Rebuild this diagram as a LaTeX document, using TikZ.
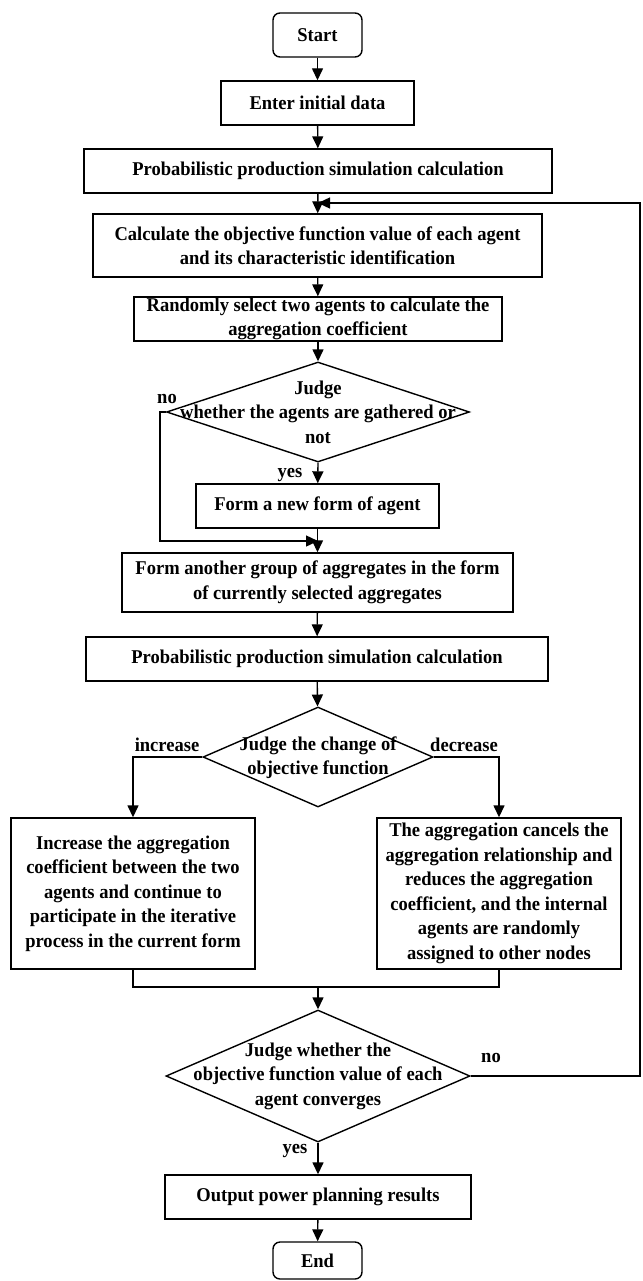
\documentclass[tikz,border=0pt]{standalone}
\usepackage{fontspec}
\setmainfont[FakeStretch=0.95]{Liberation Serif}
\usetikzlibrary{arrows.meta,shapes.geometric}
\newcommand\myfont{\bfseries\fontsize{19.5}{24.5}\selectfont}
\begin{document}
\begin{tikzpicture}[x=1pt,y=-1pt,
  box/.style={draw,line width=1.4pt,inner sep=0pt,align=center,font=\myfont},
  term/.style={box,rounded corners=7pt},
  dia/.style={draw,line width=1.4pt,shape=diamond,inner sep=0pt},
  txt/.style={inner sep=0pt,align=center,font=\myfont},
  lbl/.style={inner sep=0pt,font=\myfont},
  conn/.style={line width=1.4pt},
  arr/.style={conn,-{Triangle[length=12pt,width=11pt]}}
]
\useasboundingbox (0,0) rectangle (642,1281);

\node[term,minimum width=89pt,minimum height=44pt] (start) at (317.5,35) {Start};
\node[box,minimum width=193pt,minimum height=44pt] (enter) at (317.5,103) {Enter initial data};
\node[box,minimum width=468pt,minimum height=44pt] (prob1) at (318,171) {Probabilistic production simulation calculation};
\node[box,minimum width=449pt,minimum height=63pt] (calc) at (317.5,245.5) {Calculate the objective function value of each agent\\and its characteristic identification};
\node[box,minimum width=368pt,minimum height=44pt] (rand) at (318,319) {Randomly select two agents to calculate the\\aggregation coefficient};
\node[dia,minimum width=303pt,minimum height=100pt] (d1) at (318,412) {};
\node[txt] (d1t) at (318,412) {Judge\\whether the agents are gathered or\\not};
\node[box,minimum width=243pt,minimum height=44pt] (fnew) at (317.5,506) {Form a new form of agent};
\node[box,minimum width=391pt,minimum height=59pt] (another) at (317.5,582.5) {Form another group of aggregates in the form\\of currently selected aggregates};
\node[box,minimum width=462pt,minimum height=44pt] (prob2) at (317,659) {Probabilistic production simulation calculation};
\node[dia,minimum width=230pt,minimum height=100pt] (d2) at (318,757) {};
\node[txt] (d2t) at (318,757.5) {Judge the change of\\objective function};
\node[box,minimum width=244pt,minimum height=151pt] (lbox) at (133,893.5) {Increase the aggregation\\coefficient between the two\\agents and continue to\\participate in the iterative\\process in the current form};
\node[box,minimum width=244pt,minimum height=151pt] (rbox) at (499,893.5) {The aggregation cancels the\\aggregation relationship and\\reduces the aggregation\\coefficient, and the internal\\agents are randomly\\assigned to other nodes};
\node[dia,minimum width=304pt,minimum height=132pt] (d3) at (318,1076) {};
\node[txt] (d3t) at (318,1076) {Judge whether the\\objective function value of each\\agent converges};
\node[box,minimum width=306pt,minimum height=44pt] (out) at (318,1197) {Output power planning results};
\node[term,minimum width=89pt,minimum height=37pt] (end) at (317.5,1260.5) {End};

\node[lbl] (no1) at (167,399) {no};
\node[lbl] (yes1) at (290,475) {yes};
\node[lbl] (inc) at (167,745) {increase};
\node[lbl] (dec) at (464,745) {decrease};
\node[lbl] (no2) at (491,1058) {no};
\node[lbl] (yes2) at (295,1151) {yes};

\coordinate (fb) at (318,203);
\coordinate (fbr) at (640,203);
\coordinate (fbd) at (640,1076);
\coordinate (m1) at (318,541);
\coordinate (nl) at (160,412);
\coordinate (nld) at (160,541);
\coordinate (jl) at (133,987);
\coordinate (jr) at (499,987);
\coordinate (jm) at (318,987);

\draw[arr] (start) -- (enter);
\draw[arr] (enter) -- (prob1);
\draw[arr] (prob1) -- (calc);
\draw[arr] (calc) -- (rand);
\draw[arr] (rand) -- (d1);
\draw[arr] (d1.south) -- (fnew);
\draw[arr] (fnew) -- (another);
\draw[arr] (d1.west) -- (nl) -- (nld) -- (m1);
\draw[arr] (another) -- (prob2);
\draw[arr] (prob2) -- (d2);
\draw[arr] (d2.west) -| (lbox.north);
\draw[arr] (d2.east) -| (rbox.north);
\draw[conn] (lbox.south) -- (jl) -- (jr) -- (rbox.south);
\draw[arr] (jm) -- (d3.north);
\draw[arr] (d3.south) -- (out);
\draw[arr] (out) -- (end);
\draw[arr] (d3.east) -- (fbd) -- (fbr) -- (fb);
\end{tikzpicture}
\end{document}
